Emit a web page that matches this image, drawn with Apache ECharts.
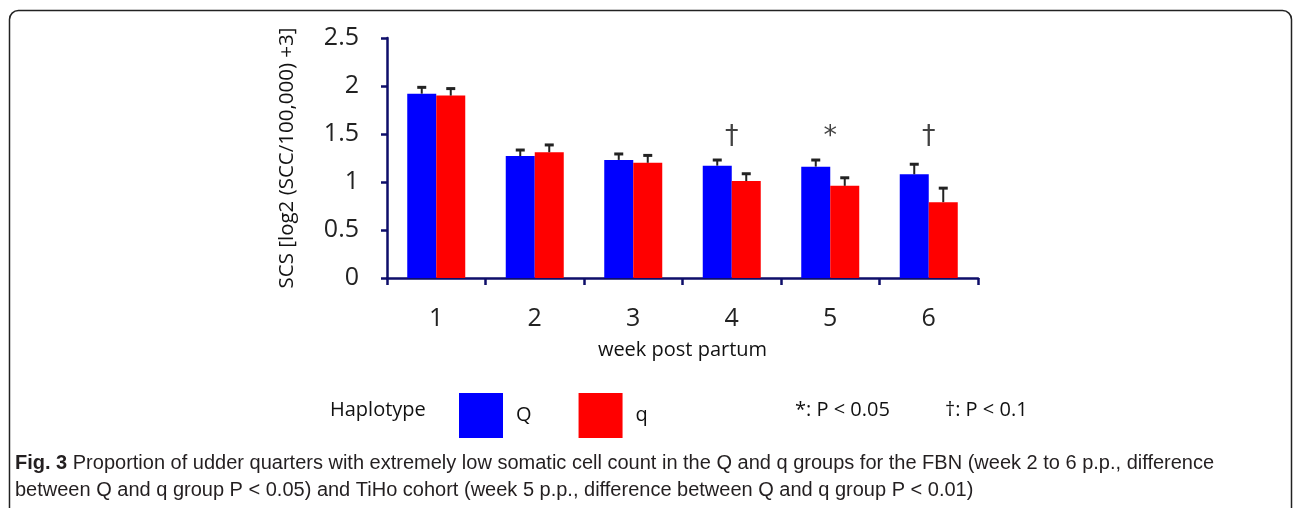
<!DOCTYPE html>
<html>
<head>
<meta charset="utf-8">
<script src="https://cdn.jsdelivr.net/npm/echarts@6/dist/echarts.min.js"></script>
<style>
html,body{margin:0;padding:0;background:#fff;}
#chart{width:1293px;height:508px;}
</style>
</head>
<body>
<div id="chart"></div>
<script>
const weeks = ['1', '2', '3', '4', '5', '6'];
const yTicks = [0, 0.5, 1, 1.5, 2, 2.5];
const seriesNames = ['Q', 'q'];
const valuesQ = [1.92, 1.27, 1.23, 1.17, 1.16, 1.08];
const valuesq = [1.90, 1.31, 1.20, 1.01, 0.96, 0.79];
const errQ = [0.066, 0.063, 0.062, 0.059, 0.069, 0.105];
const errq = [0.073, 0.076, 0.077, 0.076, 0.084, 0.146];
const sigMarks = ['', '', '', '†', '*', '†'];
const sigLevel = 1.47;
const captionBold = 'Fig. 3';
const captionLine1 = ' Proportion of udder quarters with extremely low somatic cell count in the Q and q groups for the FBN (week 2 to 6 p.p., difference';
const captionLine2 = 'between Q and q group P < 0.05) and TiHo cohort (week 5 p.p., difference between Q and q group P < 0.01)';

const AXIS = '#0e0e6a';
const FONT = '"Open Sans", sans-serif';
const CAPFONT = '"Liberation Sans Narrow", sans-serif';
const BARW = 29;

function errSeries(name, vals, errs, offset) {
  return {
    type: 'custom',
    name: name + '_err',
    z: 5,
    silent: true,
    data: vals.map((v, i) => [i, v, v + errs[i]]),
    renderItem: function (params, api) {
      const base = api.coord([api.value(0), api.value(1)]);
      const top = api.coord([api.value(0), api.value(2)]);
      const x = base[0] + offset;
      return {
        type: 'group',
        children: [
          { type: 'line', shape: { x1: x, y1: base[1], x2: x, y2: top[1] }, style: { stroke: '#222', lineWidth: 2 } },
          { type: 'line', shape: { x1: x - 4.5, y1: top[1], x2: x + 4.5, y2: top[1] }, style: { stroke: '#222', lineWidth: 3 } }
        ]
      };
    }
  };
}

const chart = echarts.init(document.getElementById('chart'));
chart.setOption({
  animation: false,
  backgroundColor: '#fff',
  grid: { left: 387, right: 315, top: 38, bottom: 230 },
  legend: {
    data: seriesNames,
    left: 454, top: 388,
    icon: 'rect',
    itemWidth: 44, itemHeight: 45,
    itemGap: 47,
    textStyle: { fontFamily: FONT, fontSize: 20, color: '#111', padding: [0, 0, 14, 8] },
    selectedMode: false
  },
  xAxis: {
    type: 'category',
    data: weeks,
    name: 'week post partum',
    nameLocation: 'middle',
    nameGap: 62,
    nameTextStyle: { fontFamily: FONT, fontSize: 20, color: '#111' },
    axisLine: { lineStyle: { color: AXIS, width: 2.5 } },
    axisTick: { show: true, length: 7, lineStyle: { color: AXIS, width: 2.5 } },
    axisLabel: { fontFamily: FONT, fontSize: 25, color: '#222', margin: 28 }
  },
  yAxis: {
    type: 'value',
    min: 0, max: 2.5, interval: 0.5,
    name: 'SCS [log2 (SCC/100,000) +3]',
    nameLocation: 'middle',
    nameGap: 89,
    nameTextStyle: { fontFamily: FONT, fontSize: 20.5, color: '#111' },
    splitLine: { show: false },
    axisLine: { show: true, lineStyle: { color: AXIS, width: 2.5 } },
    axisTick: { show: true, length: 6, lineStyle: { color: AXIS, width: 2.5 } },
    axisLabel: { fontFamily: FONT, fontSize: 25, color: '#222', margin: 28,
      formatter: v => (yTicks.indexOf(v) >= 0 ? String(v) : '') }
  },
  series: [
    { type: 'bar', name: seriesNames[0], data: valuesQ, barWidth: BARW, barGap: '0%', itemStyle: { color: '#0000ff' } },
    { type: 'bar', name: seriesNames[1], data: valuesq, barWidth: BARW, barGap: '0%', itemStyle: { color: '#ff0000' } },
    errSeries('Q', valuesQ, errQ, -BARW / 2),
    errSeries('q', valuesq, errq, BARW / 2),
    {
      type: 'scatter',
      name: 'sig',
      symbolSize: 0,
      silent: true,
      data: sigMarks.map((m, i) => ({ value: [i, sigLevel], label: { formatter: m } })),
      label: { show: true, position: 'inside', fontFamily: '"DejaVu Sans", sans-serif', fontSize: 27, color: '#111' }
    }
  ],
  graphic: [
    { type: 'rect', shape: { x: 9.5, y: 10.5, width: 1282, height: 530, r: 9 }, style: { fill: 'none', stroke: '#222', lineWidth: 1.5 }, silent: true },
    { type: 'text', left: 330, top: 400, style: { text: 'Haplotype', fontFamily: FONT, fontSize: 20, fill: '#111' } },
    { type: 'text', left: 795, top: 400, style: { text: '*: P < 0.05', fontFamily: FONT, fontSize: 20, fill: '#111' } },
    { type: 'text', left: 945, top: 400, style: { text: '†: P < 0.1', fontFamily: FONT, fontSize: 20, fill: '#111' } },
    { type: 'text', left: 15, top: 453, style: {
        text: '{b|' + captionBold + '}' + captionLine1,
        rich: { b: { fontFamily: CAPFONT, fontSize: 20, fontWeight: 'bold', fill: '#231f20' } },
        fontFamily: CAPFONT, fontSize: 20, fill: '#231f20' } },
    { type: 'text', left: 15, top: 480, style: { text: captionLine2,
        fontFamily: CAPFONT, fontSize: 20, fill: '#231f20' } }
  ]
});
</script>
</body>
</html>
